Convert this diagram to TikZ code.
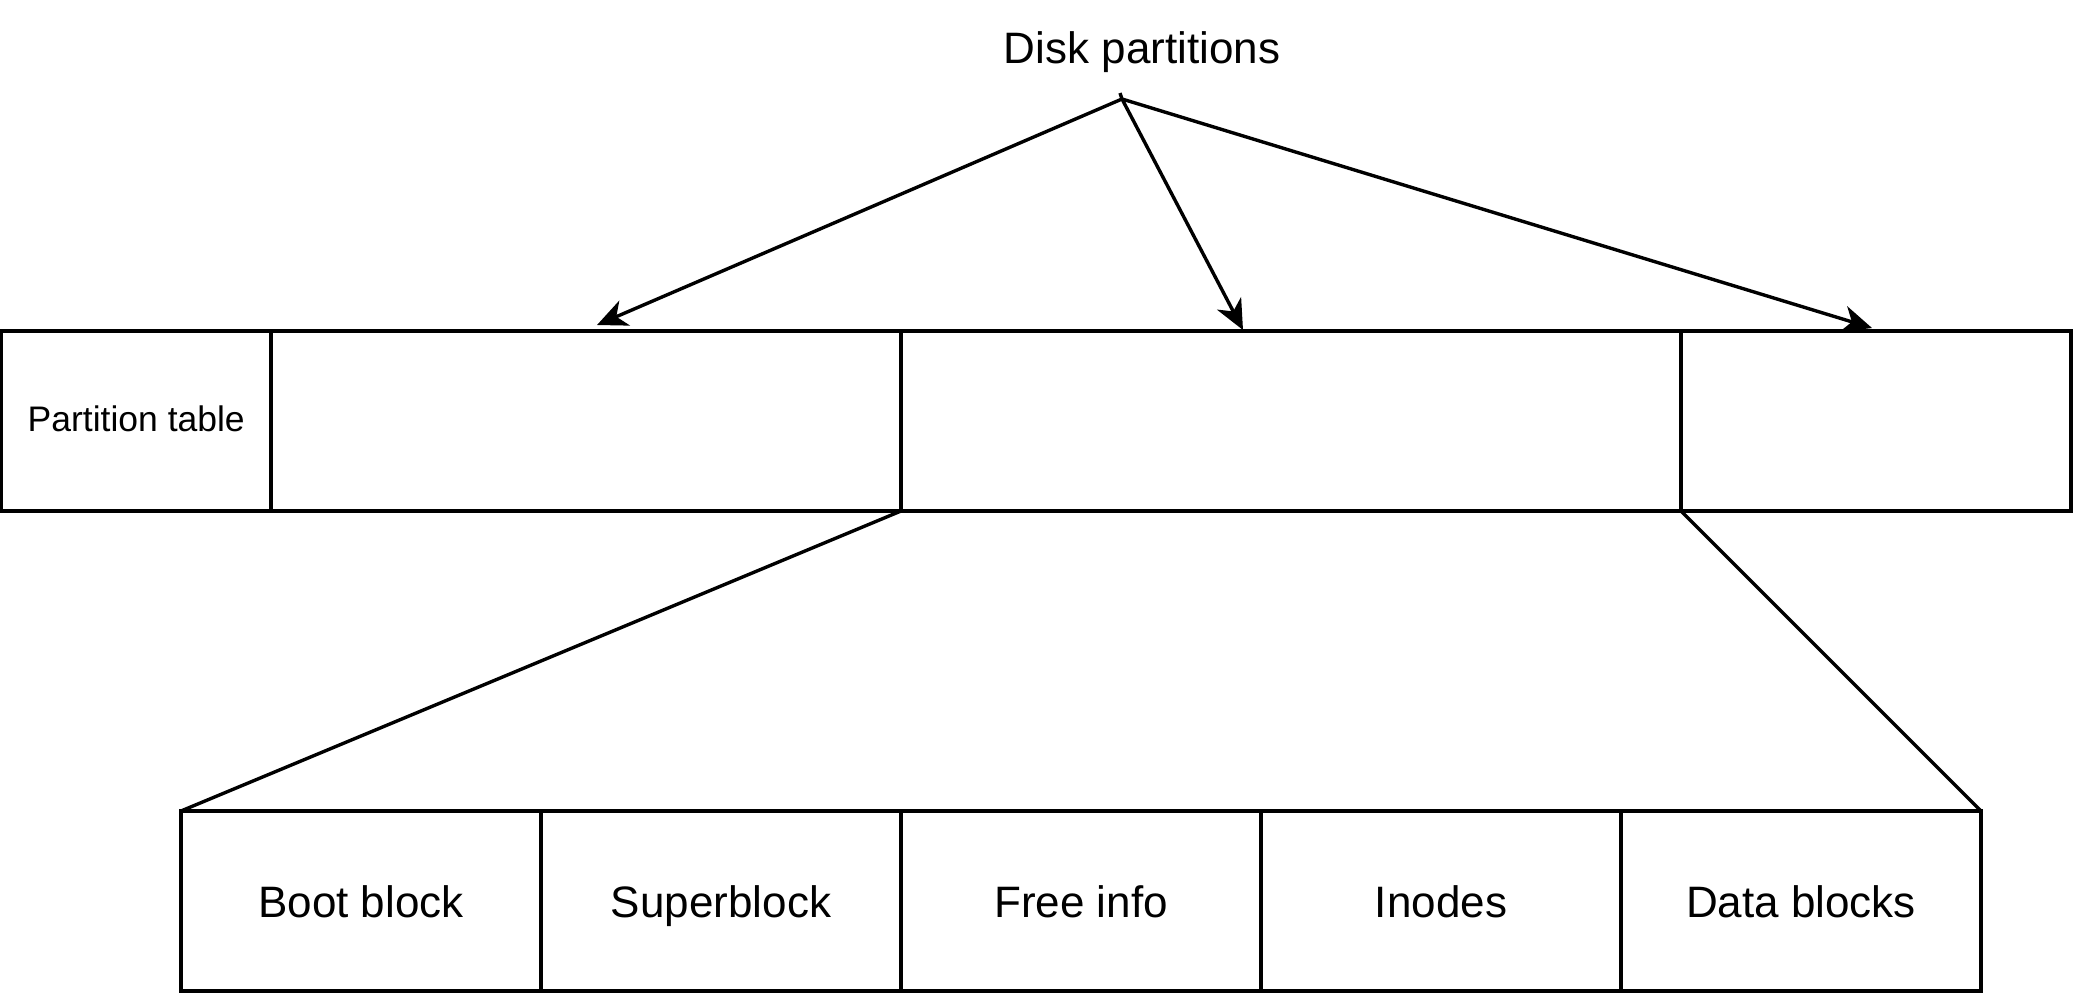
\documentclass[tikz,border=0pt]{standalone}
\usepackage{fontspec}
\setmainfont{Liberation Sans}
\usetikzlibrary{arrows.meta}
\begin{document}
\begin{tikzpicture}[x=1pt,y=-1pt,
  cell/.style={draw,line width=3.4pt,rectangle,inner sep=0pt,outer sep=0pt,minimum height=180pt},
  bigtext/.style={font=\fontsize{44}{50}\selectfont,text height=36pt,text depth=4pt},
  smalltext/.style={font=\fontsize{35.5}{40}\selectfont,text height=28pt,text depth=7pt},
  conn/.style={line width=3.4pt},
  arr/.style={line width=3.4pt,-{Stealth[length=30pt,width=27pt,inset=9pt]}}]
\useasboundingbox (0,0) rectangle (2073,993);
% top row
\node[cell,minimum width=269.5pt,smalltext] (pt) at (136.25,421) {Partition table};
\node[cell,minimum width=630pt] (p1) at (586,421) {};
\node[cell,minimum width=780pt] (p2) at (1291,421) {};
\node[cell,minimum width=390pt] (p3) at (1876,421) {};
% bottom row
\node[cell,minimum width=360pt,bigtext] (boot) at (361,901) {Boot block};
\node[cell,minimum width=360pt,bigtext] (super) at (721,901) {Superblock};
\node[cell,minimum width=360pt,bigtext] (free) at (1081,901) {Free info};
\node[cell,minimum width=360pt,bigtext] (inodes) at (1441,901) {Inodes};
\node[cell,minimum width=360pt,bigtext] (data) at (1801,901) {Data blocks};
% title
\node[font=\fontsize{44}{50}\selectfont,anchor=base,inner sep=0pt] (title) at (1142,63) {Disk partitions};
\coordinate (src) at (1122,99);
\coordinate (tick) at (1120,93);
\coordinate (t1) at (597,325);
\coordinate (t2) at (1243,330);
\coordinate (t3) at (1872,328);
\draw[conn] (tick) -- (src);
\draw[arr] (src) -- (t1);
\draw[arr] (src) -- (t2);
\draw[arr] (src) -- (t3);
% zoom lines
\draw[conn] (p1.south east) -- (boot.north west);
\draw[conn] (p2.south east) -- (data.north east);
\end{tikzpicture}
\end{document}
